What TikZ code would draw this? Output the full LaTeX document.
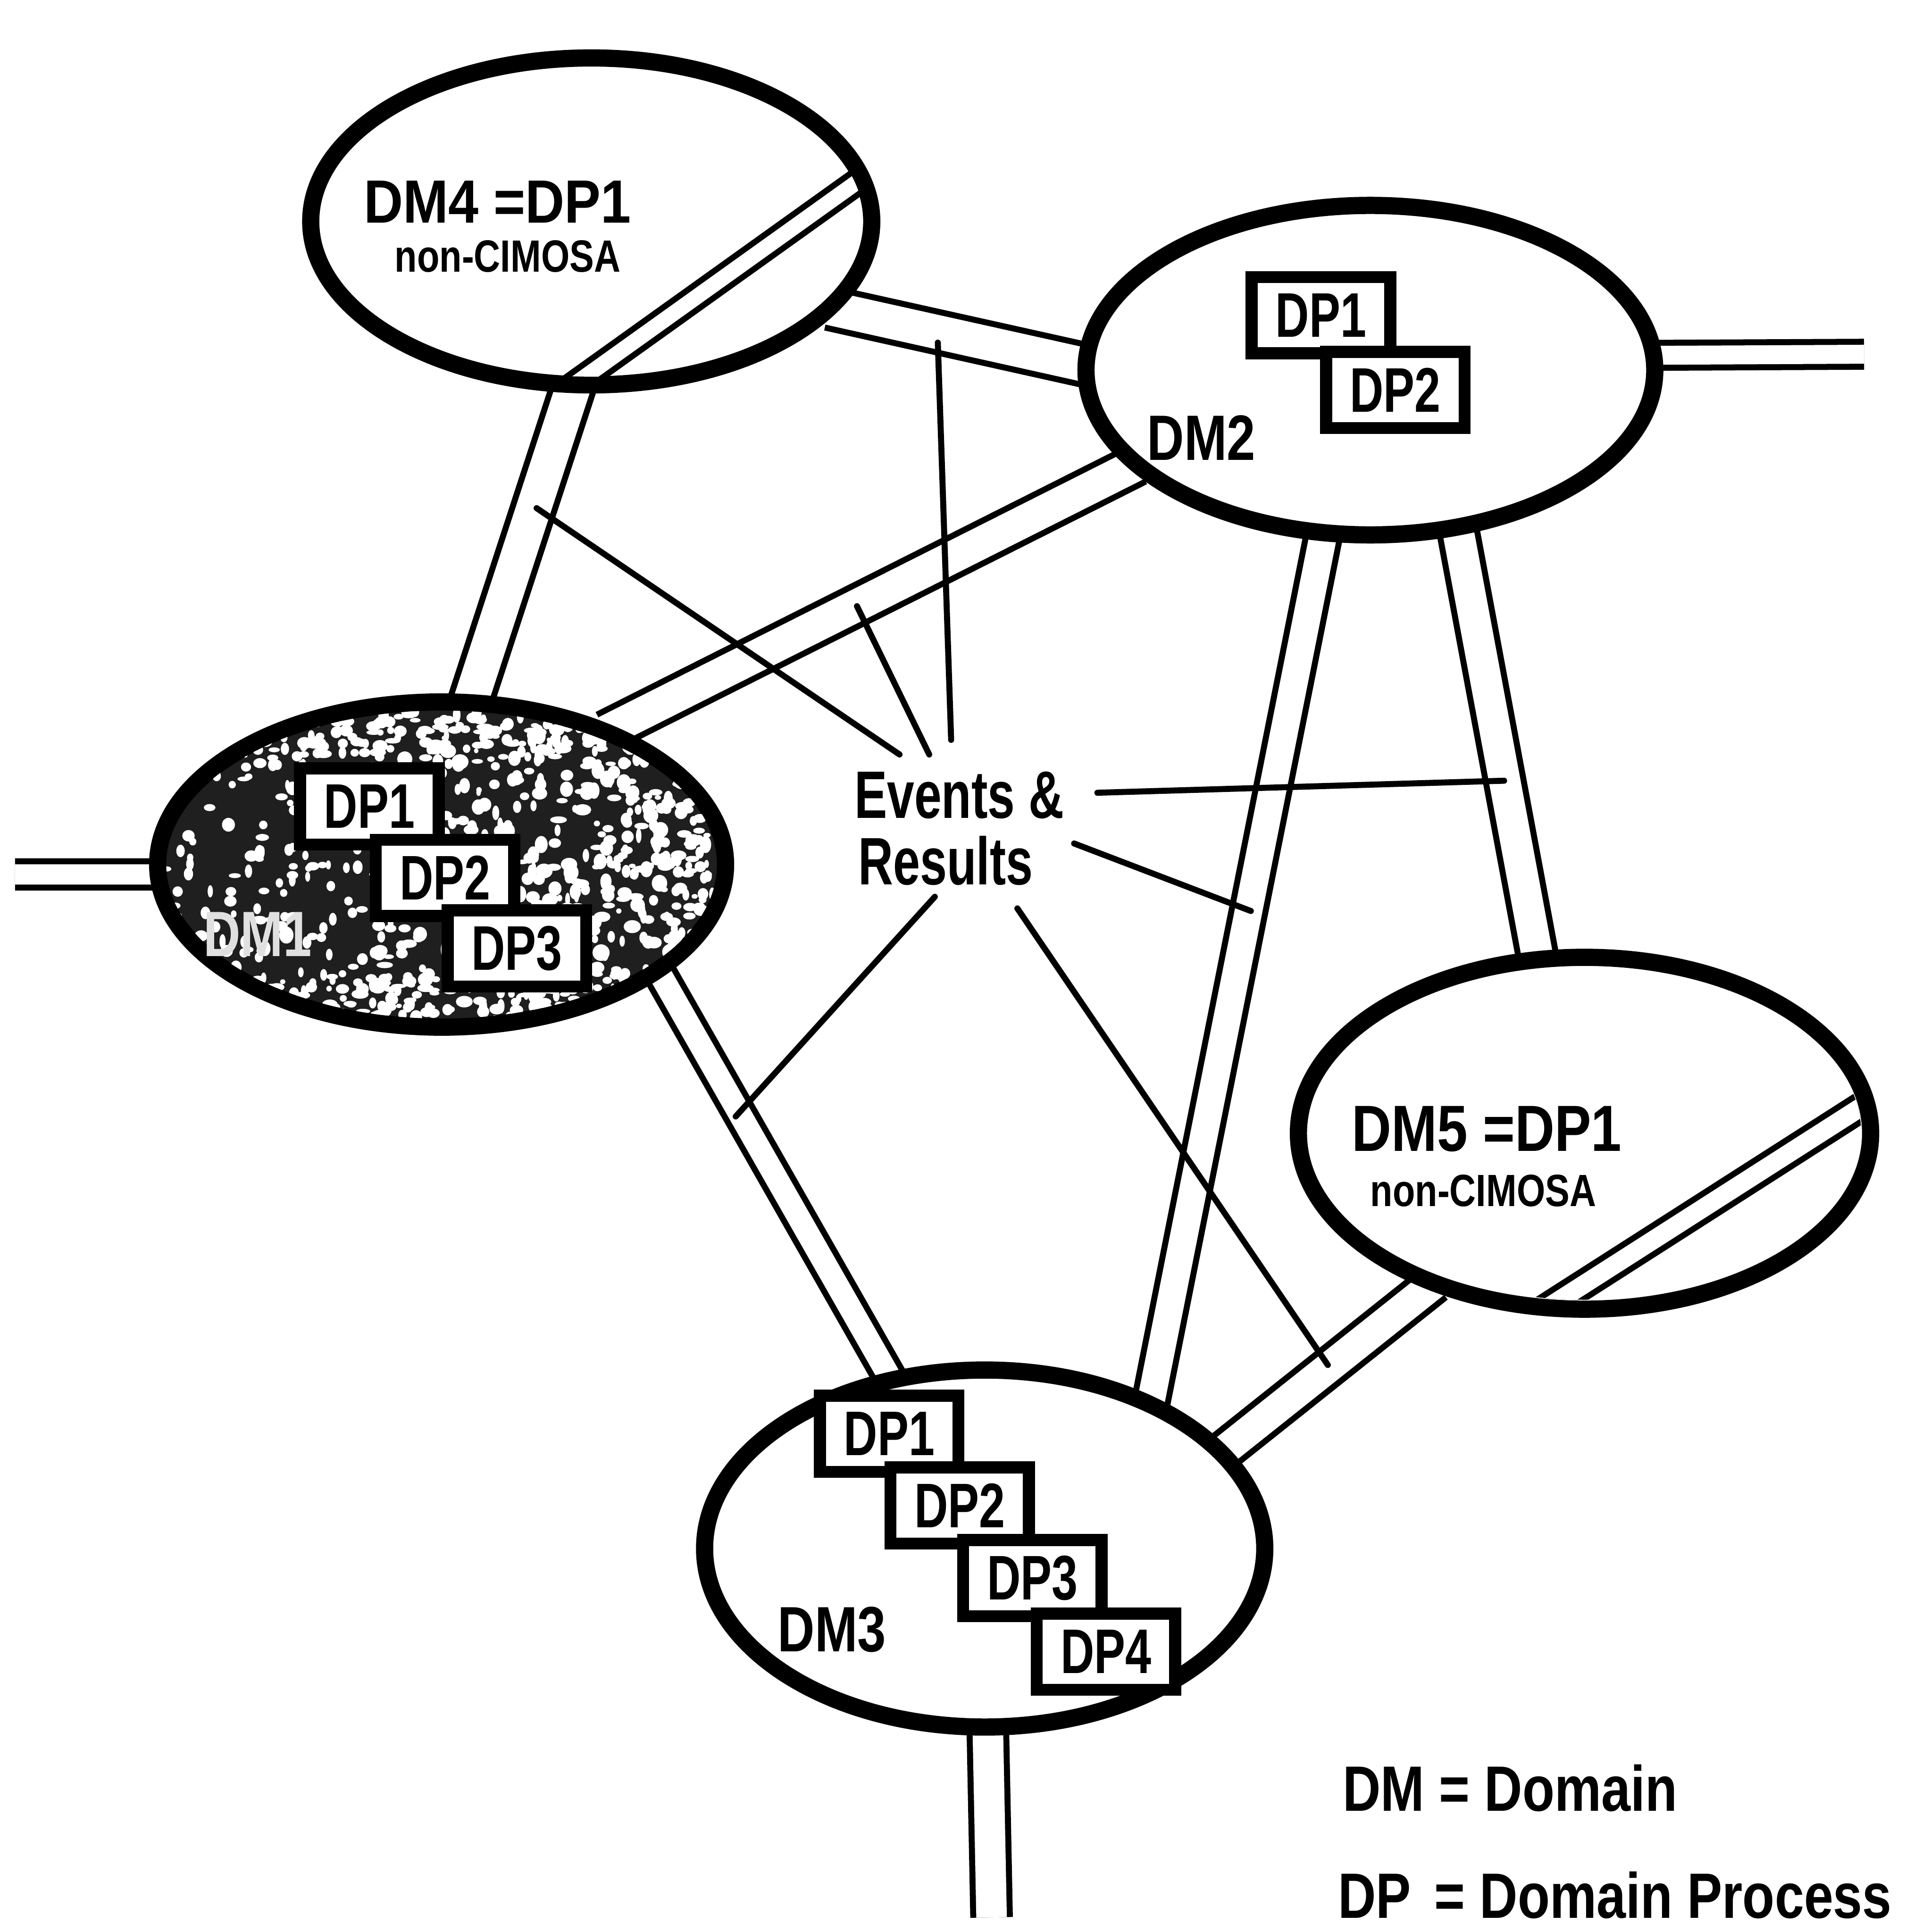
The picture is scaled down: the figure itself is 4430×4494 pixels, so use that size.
\documentclass[tikz,border=0pt]{standalone}
\usepackage{fontspec}
\setmainfont{Liberation Sans}
\usepackage{graphicx}
\usetikzlibrary{shapes.geometric}
\pgfdeclarelayer{back}
\pgfdeclarelayer{links}
\pgfsetlayers{back,links,main}
% horizontally condensed text
\newcommand{\hsq}[2]{\scalebox{#1}[1]{#2}}
% bold face at a given size
\newcommand{\fsz}[1]{\fontsize{#1}{#1}\selectfont\bfseries}

\begin{document}
\begin{tikzpicture}[x=0.01cm, y=-0.01cm,
  dom/.style={ellipse, draw=black, line width=0.4cm, fill=white, inner sep=0pt, outer sep=0pt},
  link/.style={draw=black, line width=0.14cm, double=white, double distance=#1},
  wire/.style={draw=black, line width=0.14cm, line cap=round},
  dpbox/.style={rectangle, draw=black, fill=white, line width=0.28cm,
    minimum width=3.22cm, minimum height=1.77cm, inner sep=0pt, outer sep=0pt,
    font=\fsz{41.7pt}},
  lbl/.style={inner sep=0pt, outer sep=0pt, anchor=base west},
  speck/.style={fill=white},
]
\begin{pgfonlayer}{back}
  \fill[white] (0,0) rectangle (4430,4494);
\end{pgfonlayer}
\useasboundingbox (0,0) rectangle (4430,4494);

% ---------------- domains ----------------
\node[dom, minimum width=13.04cm, minimum height=7.60cm] (dm4) at (1375,515) {};
\node[dom, minimum width=13.22cm, minimum height=7.66cm] (dm2) at (3187,861) {};
\node[dom, fill=black!88, minimum width=13.20cm, minimum height=7.56cm] (dm1) at (1027,2011) {};
\node[dom, minimum width=13.30cm, minimum height=8.18cm] (dm5) at (3685,2636) {};
\node[dom, minimum width=13.02cm, minimum height=8.30cm] (dm3) at (2290,3602) {};

% free ends of the outgoing links
\coordinate (s1) at (35,2034);
\coordinate (s2) at (4335,824);
\coordinate (s3) at (2306,4460);

% ---------------- links between domains ----------------
\begin{pgfonlayer}{links}
  \draw[link=0.47cm] (s1) -- (dm1.182);
  \draw[link=0.44cm] (dm2.3) -- (s2);
  \draw[link=0.71cm] (dm3.271) -- (s3);
  \draw[link=0.81cm] (dm1.80) -- (dm4.264);
  \draw[link=0.79cm] (dm4.340) -- (dm2.179);
  \draw[link=0.75cm] (dm1.39) -- (dm2.202);
  \draw[link=0.53cm] (dm1.334) -- (dm3.119);
  \draw[link=0.64cm] (dm2.254) -- (dm3.41);
  \draw[link=0.73cm] (dm2.299) -- (dm5.105);
  \draw[link=0.70cm] (dm3.22) -- (dm5.225);
\end{pgfonlayer}

% channels running through the non-CIMOSA domains
\begin{scope}
  \clip (dm4.center) ellipse [x radius=6.33cm, y radius=3.61cm];
  \draw[link=0.36cm, shorten <=-0.5cm, shorten >=-0.5cm] (dm4.264) -- (dm4.9);
\end{scope}
\begin{scope}
  \clip (dm5.center) ellipse [x radius=6.43cm, y radius=3.87cm];
  \draw[link=0.43cm, shorten <=-0.5cm, shorten >=-0.5cm] (dm5.258) -- (dm5.6);
\end{scope}

% stippled shading of DM1: light flecks, denser towards the right and the rim
\begin{scope}
  \clip (dm1.center) ellipse [x radius=6.40cm, y radius=3.58cm];
  \pgfmathsetseed{2718}
  \foreach \k in {1,...,420}{
    \pgfmathsetmacro{\sx}{1027+640*rand}
    \pgfmathsetmacro{\sy}{2011+360*rand}
    \pgfmathsetmacro{\sa}{0.5+1.1*rnd}
    \pgfmathsetmacro{\sb}{0.5+1.1*rnd}
    \fill[speck] (\sx,\sy) ellipse [x radius=\sa mm, y radius=\sb mm];
  }
  \foreach \k in {1,...,420}{
    \pgfmathsetmacro{\sx}{1027+640*(2*pow(rnd+0.001,0.4)-1)}
    \pgfmathsetmacro{\sy}{2011+360*rand}
    \pgfmathsetmacro{\sa}{0.6+1.4*rnd}
    \pgfmathsetmacro{\sb}{0.6+1.4*rnd}
    \fill[speck] (\sx,\sy) ellipse [x radius=\sa mm, y radius=\sb mm];
  }
  \foreach \k in {1,...,260}{
    \pgfmathsetmacro{\sx}{1027+560*rand}
    \pgfmathsetmacro{\sside}{rand<0 ? -1 : 1}
    \pgfmathsetmacro{\sy}{2011+\sside*(250+110*rnd)}
    \pgfmathsetmacro{\sa}{0.6+1.4*rnd}
    \pgfmathsetmacro{\sb}{0.5+0.9*rnd}
    \fill[speck] (\sx,\sy) ellipse [x radius=\sa mm, y radius=\sb mm];
  }
\end{scope}

% ---------------- domain processes ----------------
\node[dpbox] (b21) at (3072,733) {\hsq{0.74}{DP1}};
\node[dpbox] (b22) at (3245,907) {\hsq{0.74}{DP2}};

\node[dpbox] (b11) at (859,1876) {\hsq{0.74}{DP1}};
\node[dpbox] (b12) at (1035,2042) {\hsq{0.74}{DP2}};
\node[dpbox] (b13) at (1202,2206) {\hsq{0.74}{DP3}};

\node[dpbox] (b31) at (2068,3335) {\hsq{0.74}{DP1}};
\node[dpbox] (b32) at (2232,3502) {\hsq{0.74}{DP2}};
\node[dpbox] (b33) at (2401,3671) {\hsq{0.74}{DP3}};
\node[dpbox] (b34) at (2572,3842) {\hsq{0.74}{DP4}};

% ---------------- labels ----------------
\node[lbl, font=\fsz{40.4pt}] (t4) at (846,518) {\hsq{0.89}{DM4 =DP1}};
\node[lbl, font=\fsz{29.9pt}] (n4) at (918,632) {\hsq{0.81}{non-CIMOSA}};
\node[lbl, font=\fsz{43.2pt}] (t5) at (3144,2678) {\hsq{0.84}{DM5 =DP1}};
\node[lbl, font=\fsz{29.9pt}] (n5) at (3187,2806) {\hsq{0.81}{non-CIMOSA}};
\node[lbl, font=\fsz{42.4pt}] (t2) at (2668,1070) {\hsq{0.8}{DM2}};
\node[lbl, font=\fsz{42.4pt}] (t3) at (1809,3842) {\hsq{0.8}{DM3}};
\node[lbl, font=\fsz{42.4pt}, text=black!12] (t1) at (473,2225) {\hsq{0.8}{DM1}};

\node[lbl, font=\fsz{44.4pt}] (ev) at (1987,1903) {\hsq{0.73}{Events \&}};
\node[lbl, font=\fsz{44.4pt}] (ev2) at (1996,2058) {\hsq{0.72}{Results}};

% ---------------- events & results wires ----------------
\coordinate (e1) at (2092,1755);  \coordinate (r1) at (1248,1182);
\coordinate (e2) at (2212,1721);  \coordinate (r2) at (2181,797);
\coordinate (e3) at (2161,1755);  \coordinate (r3) at (1993,1410);
\coordinate (e4) at (2552,1844);  \coordinate (r4) at (3498,1816);
\coordinate (e5) at (2498,1962);  \coordinate (r5) at (2909,2119);
\coordinate (e6) at (2174,2086);  \coordinate (r6) at (1711,2597);
\coordinate (e7) at (2366,2113);  \coordinate (r7) at (3088,3175);
\foreach \i in {1,...,7}{ \draw[wire] (e\i) -- (r\i); }

% ---------------- legend ----------------
\node[lbl, font=\fsz{42.4pt}] (lg1) at (3123,4212) {\hsq{0.82}{DM = Domain}};
\node[lbl, font=\fsz{42.4pt}] (lg2) at (3112,4462) {\hsq{0.82}{\rlap{DP}\phantom{DM} = Domain Process}};
\end{tikzpicture}
\end{document}
